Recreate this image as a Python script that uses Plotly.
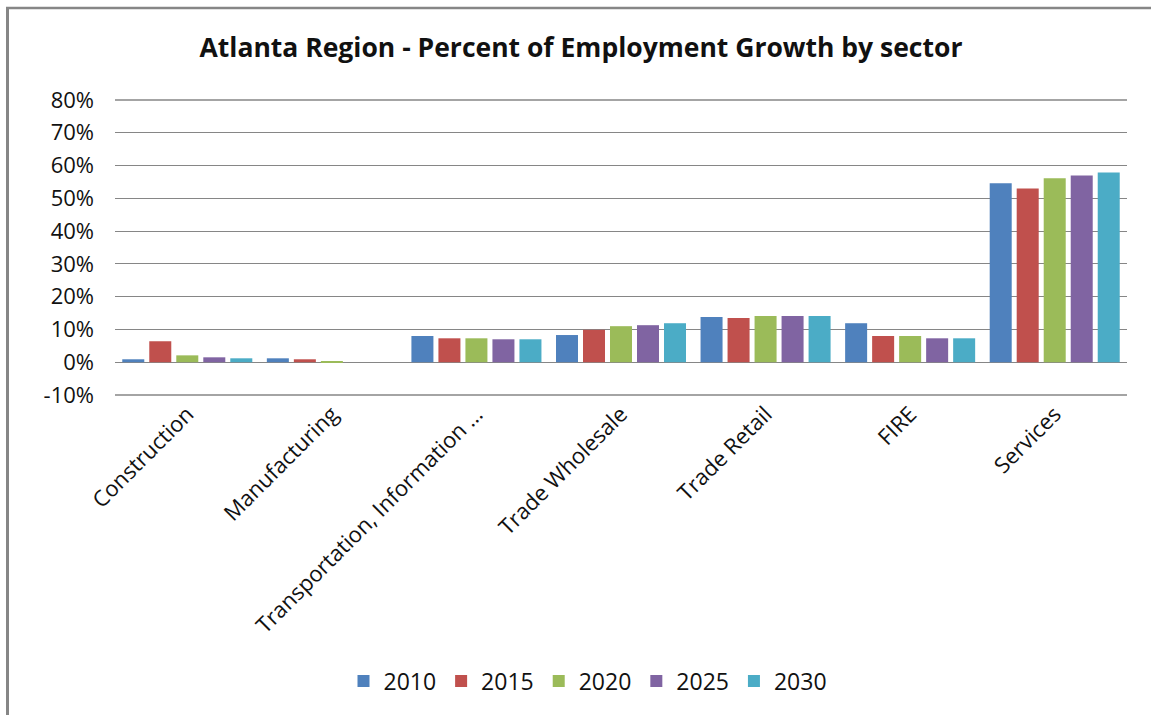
import plotly.graph_objects as go

# Sector categories and employment-growth shares per forecast year
sectors = ["Construction", "Manufacturing", "Transportation, Information …",
           "Trade Wholesale", "Trade Retail", "FIRE", "Services"]
years = ["2010", "2015", "2020", "2025", "2030"]

share_2010 = [0.009, 0.012, 0.080, 0.083, 0.138, 0.119, 0.546]
share_2015 = [0.064, 0.009, 0.073, 0.099, 0.135, 0.080, 0.530]
share_2020 = [0.021, 0.003, 0.073, 0.110, 0.141, 0.080, 0.561]
share_2025 = [0.015, 0.000, 0.070, 0.113, 0.141, 0.073, 0.570]
share_2030 = [0.012, 0.000, 0.070, 0.119, 0.141, 0.073, 0.579]

tick_vals = [-0.1, 0.0, 0.1, 0.2, 0.3, 0.4, 0.5, 0.6, 0.7, 0.8]
tick_text = ["-10%", "0%", "10%", "20%", "30%", "40%", "50%", "60%", "70%", "80%"]

series = [share_2010, share_2015, share_2020, share_2025, share_2030]
colors = ["#4F81BD", "#C0504D", "#9BBB59", "#8064A2", "#4BACC6"]

font_family = "Open Sans, DejaVu Sans, sans-serif"
grid_color = "#868686"

fig = go.Figure()
for year, vals, col in zip(years, series, colors):
    fig.add_trace(go.Bar(name=year, x=sectors, y=vals, marker_color=col,
                         marker_line_width=0))

# Plot area geometry in pixels
W, H = 1151, 715
L, R, T, B = 115, 24, 99, 319
pw, ph = W - L - R, H - T - B

def px_x(x):
    return (x - L) / pw

def px_y(y):
    return (H - B - y) / ph

# grid lines at the top and bottom of the value range
edge_lines = [
    dict(type="line", xref="paper", yref="y", x0=0, x1=1, y0=v, y1=v,
         layer="below", line=dict(color=grid_color, width=1.3))
    for v in (tick_vals[0], tick_vals[-1])
]

frame = [
    # outer frame edges (left and top)
    dict(type="line", xref="paper", yref="paper",
         x0=px_x(7.5), x1=px_x(7.5), y0=px_y(8), y1=px_y(716),
         line=dict(color=grid_color, width=3)),
    dict(type="line", xref="paper", yref="paper",
         x0=px_x(6), x1=px_x(1152), y0=px_y(8), y1=px_y(8),
         line=dict(color=grid_color, width=2.5)),
]

fig.update_layout(
    width=W, height=H,
    margin=dict(l=L, r=R, t=T, b=B),
    paper_bgcolor="white", plot_bgcolor="white",
    barmode="group", bargap=0.066, bargroupgap=0.185,
    font=dict(family=font_family, color="#111111"),
    title=dict(text="<b>Atlanta Region - Percent of Employment Growth by sector</b>",
               x=px_x(581), xref="paper", xanchor="center",
               y=1 - 48 / H, yref="container", yanchor="middle",
               font=dict(size=26.5, family=font_family, color="#111111")),
    showlegend=True,
    legend=dict(orientation="h", x=px_x(588), xanchor="center",
                y=px_y(681), yanchor="middle",
                font=dict(size=23, family=font_family, color="#111111"),
                itemwidth=30, traceorder="normal"),
    xaxis=dict(tickangle=-45, tickfont=dict(size=22), showgrid=False,
               showline=False, ticks=""),
    yaxis=dict(range=[-0.103, 0.803], tickvals=tick_vals, ticktext=tick_text,
               tickfont=dict(size=22), showgrid=True, gridcolor=grid_color,
               gridwidth=1.3, zeroline=False, showline=False, ticks="",
               ticklabelstandoff=20),
    shapes=edge_lines + frame,
)

fig.write_html("out.html")
